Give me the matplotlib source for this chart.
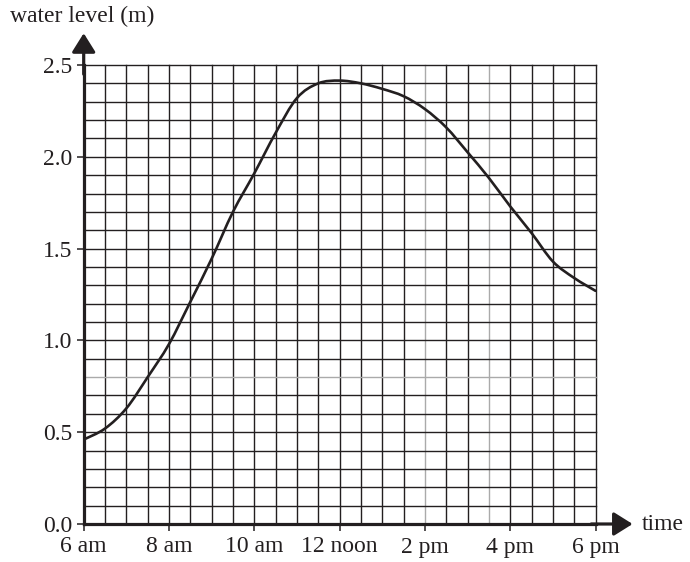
import matplotlib
matplotlib.use("Agg")
import matplotlib.pyplot as plt
from matplotlib.path import Path
from matplotlib.patches import PathPatch
import numpy as np

plt.rcParams['font.family'] = ['Liberation Serif', 'DejaVu Serif']

# data: time in hours (24h clock), water level in metres
hours = [6.0, 6.5, 7.0, 7.5, 8.0, 8.5, 9.0, 9.5, 10.0, 10.5, 11.0, 11.5, 12.0,
         12.5, 13.0, 13.5, 14.0, 14.5, 15.0, 15.5, 16.0, 16.5, 17.0, 17.5, 18.0]
level = [0.46, 0.52, 0.63, 0.80, 0.98, 1.21, 1.445, 1.70, 1.91, 2.13, 2.32, 2.40, 2.415,
         2.40, 2.37, 2.33, 2.26, 2.16, 2.025, 1.885, 1.73, 1.585, 1.43, 1.34, 1.27]

x_ticks = [6, 8, 10, 12, 14, 16, 18]
x_labels = ["6 am", "8 am", "10 am", "12 noon", "2 pm", "4 pm", "6 pm"]
y_ticks = [0.0, 0.5, 1.0, 1.5, 2.0, 2.5]
y_labels = ["0.0", "0.5", "1.0", "1.5", "2.0", "2.5"]

ink = '#231f20'
fig = plt.figure(figsize=(6.9, 5.62), dpi=100)
ax = fig.add_axes([83.7/690, 38/562, (595.5-83.7)/690, (524-65)/562])
ax.set_xlim(6, 18)
ax.set_ylim(0, 2.5)

# grid lines
gx = np.arange(6.5, 18.01, 0.5)
gy = np.arange(0.1, 2.501, 0.1)
gray_x = [14.0, 15.5]
gray_y = [0.8]
for v in gx:
    c = '#aaaaaa' if any(abs(v - g) < 1e-6 for g in gray_x) else ink
    ax.plot([v, v], [0, 2.5], color=c, lw=1.0, clip_on=False, zorder=1)
for v in gy:
    c = '#aaaaaa' if any(abs(v - g) < 1e-6 for g in gray_y) else ink
    ax.plot([6, 18], [v, v], color=c, lw=1.0, clip_on=False, zorder=1)

# smooth curve through the read points (Catmull-Rom as cubic Bezier path)
P = np.column_stack([hours, level])
verts = [tuple(P[0])]
codes = [Path.MOVETO]
n = len(P)
for i in range(n - 1):
    p0 = P[i - 1] if i > 0 else P[i]
    p1 = P[i]
    p2 = P[i + 1]
    p3 = P[i + 2] if i + 2 < n else P[i + 1]
    c1 = p1 + (p2 - p0) / 6.0
    c2 = p2 - (p3 - p1) / 6.0
    verts += [tuple(c1), tuple(c2), tuple(p2)]
    codes += [Path.CURVE4] * 3
ax.add_patch(PathPatch(Path(verts, codes), facecolor='none', edgecolor=ink,
                       lw=1.9, zorder=3, capstyle='round'))

# axes
for s in ['top', 'right']:
    ax.spines[s].set_visible(False)
for s in ['left', 'bottom']:
    ax.spines[s].set_linewidth(2.3)
    ax.spines[s].set_color(ink)
    ax.spines[s].set_zorder(4)

arrow = dict(arrowstyle='-|>,head_length=1.15,head_width=0.72', mutation_scale=10,
             color=ink, lw=2.3, shrinkA=0, shrinkB=0)
ax.annotate('', xy=(6, 2.673), xytext=(6, 2.45), arrowprops=arrow, annotation_clip=False)
ax.annotate('', xy=(18.87, 0), xytext=(17.9, 0), arrowprops=arrow, annotation_clip=False)

ax.set_xticks(x_ticks)
ax.set_xticklabels(x_labels)
ax.set_yticks(y_ticks)
ax.set_yticklabels(y_labels)
ax.tick_params(axis='both', length=5, width=1.1, color=ink, labelsize=17, labelcolor=ink)
ax.tick_params(axis='y', pad=3)
ax.tick_params(axis='x', pad=4)

fig.text(10/690, 1 - 22/562, "water level (m)", fontsize=17, color=ink, va='baseline', ha='left')
fig.text(642/690, 1 - 530/562, "time", fontsize=17, color=ink, va='baseline', ha='left')

fig.savefig("out.png", dpi=100)
